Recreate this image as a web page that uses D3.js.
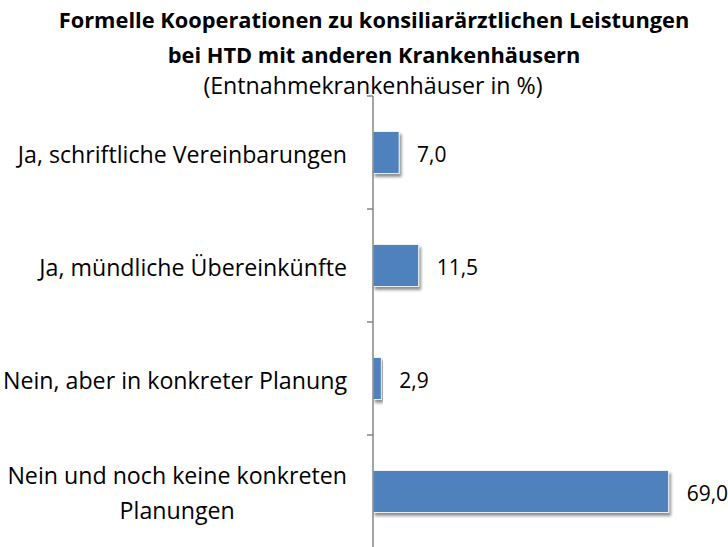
<!DOCTYPE html>
<html>
<head>
<meta charset="utf-8">
<script src="https://cdn.jsdelivr.net/npm/d3@7"></script>
<style>
  body { margin: 0; background: #fff; }
  text { font-family: "Open Sans", sans-serif; fill: #000; }
</style>
</head>
<body>
<div id="chart"></div>
<script>
var categories = [
    ["Ja, schriftliche Vereinbarungen"],
    ["Ja, mündliche Übereinkünfte"],
    ["Nein, aber in konkreter Planung"],
    ["Nein und noch keine konkreten", "Planungen"]
];
var values = [7.0, 11.5, 2.9, 69.0];
var valueLabels = ["7,0", "11,5", "2,9", "69,0"];
var titleLines = [
    "Formelle Kooperationen zu konsiliarärztlichen Leistungen",
    "bei HTD mit anderen Krankenhäusern"
];
var subtitle = "(Entnahmekrankenhäuser in %)";

var width = 728, height = 547;
var margin = { top: 96, right: 55, bottom: 0, left: 373 };
var plotW = width - margin.left - margin.right,
    plotH = 452;

var svg = d3
    .select("#chart")
    .append("svg")
    .attr("width", width)
    .attr("height", height);

var defs = svg.append("defs");
var filter = defs.append("filter")
    .attr("id", "shadow")
    .attr("x", "-10%").attr("y", "-20%")
    .attr("width", "130%").attr("height", "160%");
filter.append("feGaussianBlur").attr("in", "SourceAlpha").attr("stdDeviation", 1.5);
filter.append("feOffset").attr("dx", 2).attr("dy", 3).attr("result", "off");
filter.append("feComponentTransfer").append("feFuncA").attr("type", "linear").attr("slope", 0.45);
var merge = filter.append("feMerge");
merge.append("feMergeNode");
merge.append("feMergeNode").attr("in", "SourceGraphic");

// title
svg.append("g")
    .selectAll("text")
    .data(titleLines)
    .enter()
    .append("text")
    .attr("x", 374)
    .attr("y", function (d, i) { return 28 + i * 35; })
    .attr("text-anchor", "middle")
    .style("font-weight", "bold")
    .style("font-size", "21.8px")
    .text(function (d) { return d; });

svg.append("text")
    .attr("x", 373)
    .attr("y", 94)
    .attr("text-anchor", "middle")
    .style("font-size", "23.2px")
    .text(subtitle);

var g = svg.append("g")
    .attr("transform", "translate(" + margin.left + "," + margin.top + ")");

var x = d3.scaleLinear().domain([1, 70]).range([0, plotW]);
var y = d3.scaleBand()
    .domain(d3.range(categories.length))
    .range([0, plotH])
    .padding(0);

var barH = 42;

// bars
g.append("g")
    .selectAll("rect")
    .data(values)
    .enter()
    .append("rect")
    .attr("x", 0)
    .attr("y", function (d, i) { return y(i) + (y.bandwidth() - barH) / 2; })
    .attr("width", function (d) { return x(d); })
    .attr("height", barH)
    .attr("fill", "#4f81bd")
    .attr("stroke", "#ffffff")
    .attr("stroke-width", 0.8)
    .attr("filter", "url(#shadow)");

// value labels
g.append("g")
    .selectAll("text")
    .data(values)
    .enter()
    .append("text")
    .attr("x", function (d) { return x(d) + 18; })
    .attr("y", function (d, i) { return y(i) + y.bandwidth() / 2 + 2; })
    .attr("dy", "0.35em")
    .style("font-size", "21px")
    .text(function (d, i) { return valueLabels[i]; });

// axis with ticks at band boundaries
var boundaries = d3.range(categories.length + 1).map(function (i) { return i * y.step(); });
var axis = g.append("g");
axis.append("line")
    .attr("x1", 0).attr("x2", 0)
    .attr("y1", 0).attr("y2", plotH)
    .attr("stroke", "#868686")
    .attr("stroke-width", 1.5);
axis.selectAll(".tick")
    .data(boundaries)
    .enter()
    .append("line")
    .attr("class", "tick")
    .attr("x1", -6).attr("x2", 0)
    .attr("y1", function (d) { return d; })
    .attr("y2", function (d) { return d; })
    .attr("stroke", "#868686")
    .attr("stroke-width", 1.5);

// category labels: block right-aligned, lines centred inside the block
var labelRight = -26, lh = 35;
var labels = g.append("g")
    .selectAll("text")
    .data(categories)
    .enter()
    .append("text")
    .attr("text-anchor", "middle")
    .style("font-size", "23.2px");

labels.each(function (lines, i) {
    var t = d3.select(this);
    lines.forEach(function (line, j) {
        t.append("tspan")
            .attr("x", 0)
            .attr("y", (j - (lines.length - 1) / 2) * lh)
            .attr("dy", "0.35em")
            .text(line);
    });
    var maxW = 0;
    t.selectAll("tspan").each(function () {
        maxW = Math.max(maxW, this.getComputedTextLength());
    });
    t.attr("transform", "translate(" + (labelRight - maxW / 2) + "," +
        (y(i) + y.bandwidth() / 2 + 2) + ")");
});
</script>
</body>
</html>
